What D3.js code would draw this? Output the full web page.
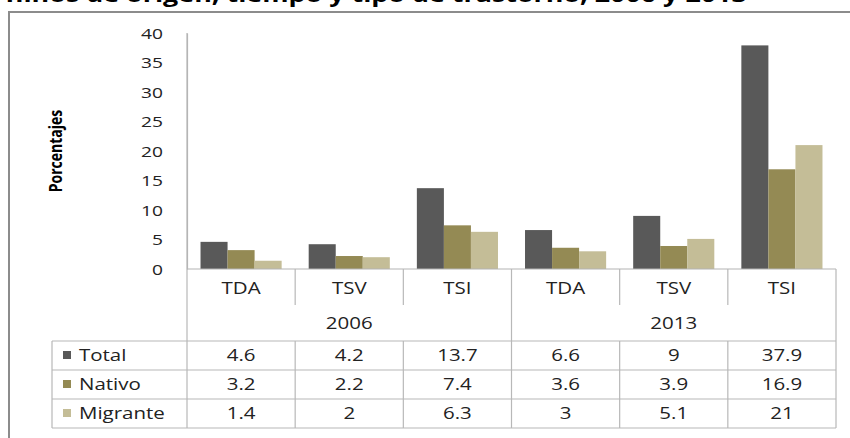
<!DOCTYPE html>
<html>
<head>
<meta charset="utf-8">
<script src="https://cdn.jsdelivr.net/npm/d3@7"></script>
<style>
  html, body { margin: 0; padding: 0; background: #fff; }
  svg { display: block; }
  text { font-family: "Open Sans", sans-serif; fill: #222; }
</style>
</head>
<body>
<svg id="chart" width="850" height="438"></svg>
<script>
// ---- data ----
const years = ["2006", "2013"];
const types = ["TDA", "TSV", "TSI"];
const seriesNames = ["Total", "Nativo", "Migrante"];
const seriesColors = ["#595959", "#948A54", "#C4BD97"];
const total    = [4.6, 4.2, 13.7, 6.6, 9, 37.9];
const nativo   = [3.2, 2.2, 7.4, 3.6, 3.9, 16.9];
const migrante = [1.4, 2, 6.3, 3, 5.1, 21];
const yTicks = [0, 5, 10, 15, 20, 25, 30, 35, 40];
const yLabel = "Porcentajes";
const title = "Prevalencia de trastornos del sueño en niños de origen, tiempo y tipo de trastorno, 2006 y 2013";

(function () {
const seriesValues = [total, nativo, migrante];
const columns = [];
years.forEach(yr => types.forEach(t => columns.push({ year: yr, type: t, key: yr + "-" + t })));

const svg = d3.select("#chart");
const SX = 1.28; // horizontal stretch of the original picture's text

// layout
const pLeft = 187, pRight = 836, pTop = 33, base = 269;
const catRowBottom = 305;
const rowLines = [341, 370, 399, 428];
const legendLeft = 52;

// title (mostly cut off at the top edge)
svg.append("text")
  .attr("transform", `translate(112,0) scale(${SX},1)`)
  .attr("y", 1.5)
  .attr("text-anchor", "middle")
  .style("font-weight", "700").style("font-size", "21px").style("fill", "#000")
  .text(title);

// outer frame
svg.append("rect").attr("x", 9).attr("y", 12).attr("width", 860).attr("height", 450)
  .attr("fill", "none").attr("stroke", "#8c8c8c").attr("stroke-width", 2);

// scales
const x = d3.scaleBand().domain(columns.map(c => c.key)).range([pLeft, pRight]);
const xs = d3.scaleBand().domain(seriesNames).range([0, x.bandwidth()]).paddingOuter(0.5).paddingInner(0);
const y = d3.scaleLinear().domain([0, 40]).range([base, pTop]);

// y axis
const yAxis = svg.append("g").attr("transform", `translate(${pLeft},0)`)
  .call(d3.axisLeft(y).tickValues(yTicks).tickSize(0).tickPadding(0).tickFormat(d3.format("d")));
yAxis.select(".domain").attr("stroke", "#b3b3b3").attr("stroke-width", 1.2);
yAxis.selectAll(".tick text").remove();
yAxis.selectAll(".tick").append("text")
  .attr("transform", `translate(${163 - pLeft},0) scale(${SX},1)`)
  .attr("text-anchor", "end").attr("dy", "0.36em")
  .style("font-size", "15px").style("fill", "#222")
  .text(d => d);

// y label
svg.append("text")
  .attr("transform", `translate(62,151) scale(${SX},1) rotate(-90)`)
  .attr("text-anchor", "middle")
  .style("font-weight", "700").style("font-size", "14px").style("fill", "#000")
  .text(yLabel);

// bars
seriesNames.forEach((s, si) => {
  svg.append("g").selectAll("rect")
    .data(columns.map((c, i) => ({ c, v: seriesValues[si][i] })))
    .join("rect")
    .attr("x", d => x(d.c.key) + xs(s))
    .attr("y", d => y(d.v))
    .attr("width", xs.bandwidth())
    .attr("height", d => base - y(d.v))
    .attr("fill", seriesColors[si]);
});

// table grid
const grid = svg.append("g").attr("stroke", "#b8b8b8").attr("stroke-width", 1.2).attr("fill", "none");
grid.append("line").attr("x1", pLeft).attr("x2", pRight).attr("y1", base).attr("y2", base).attr("stroke", "#b3b3b3");
rowLines.forEach(ly => grid.append("line").attr("x1", legendLeft).attr("x2", pRight).attr("y1", ly).attr("y2", ly));
grid.append("line").attr("x1", legendLeft).attr("x2", legendLeft).attr("y1", rowLines[0]).attr("y2", rowLines[3]);
columns.forEach((c, i) => {
  const vx = x(c.key);
  if (i === 0 || i === 3) {
    grid.append("line").attr("x1", vx).attr("x2", vx).attr("y1", i === 0 ? pTop : base).attr("y2", rowLines[3]);
  } else {
    grid.append("line").attr("x1", vx).attr("x2", vx).attr("y1", base).attr("y2", catRowBottom);
    grid.append("line").attr("x1", vx).attr("x2", vx).attr("y1", rowLines[0]).attr("y2", rowLines[3]);
  }
});
grid.append("line").attr("x1", pRight).attr("x2", pRight).attr("y1", base).attr("y2", rowLines[3]);

// category labels
svg.append("g").selectAll("text").data(columns).join("text")
  .attr("transform", c => `translate(${x(c.key) + x.bandwidth() / 2},288) scale(${SX},1)`)
  .attr("text-anchor", "middle").attr("dy", "0.36em")
  .style("font-size", "16px")
  .text(c => c.type);

// year labels
svg.append("g").selectAll("text").data(years).join("text")
  .attr("transform", yr => {
    const first = x(yr + "-" + types[0]);
    const last = x(yr + "-" + types[types.length - 1]) + x.bandwidth();
    return `translate(${(first + last) / 2},323) scale(${SX},1)`;
  })
  .attr("text-anchor", "middle").attr("dy", "0.36em")
  .style("font-size", "16px")
  .text(d => d);

// data rows
seriesNames.forEach((s, si) => {
  const cy = (rowLines[si] + rowLines[si + 1]) / 2;
  svg.append("rect").attr("x", 63).attr("y", cy - 4.5).attr("width", 8).attr("height", 8).attr("fill", seriesColors[si]);
  svg.append("text")
    .attr("transform", `translate(79,${cy}) scale(${SX},1)`)
    .attr("dy", "0.36em").style("font-size", "16px")
    .text(s);
  svg.append("g").selectAll("text").data(columns).join("text")
    .attr("transform", c => `translate(${x(c.key) + x.bandwidth() / 2},${cy}) scale(${SX},1)`)
    .attr("text-anchor", "middle").attr("dy", "0.36em")
    .style("font-size", "16px")
    .text((c, i) => seriesValues[si][i]);
});
})();
</script>
</body>
</html>
